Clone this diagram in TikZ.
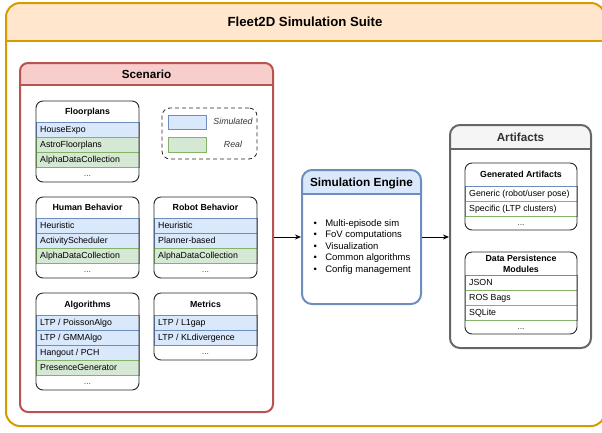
\documentclass[tikz,border=0pt]{standalone}
\usepackage{fontspec}
\setmainfont{Liberation Sans}
\usetikzlibrary{arrows.meta,fit}

\definecolor{orgS}{HTML}{D79B00}\definecolor{orgF}{HTML}{FFE6CC}
\definecolor{redS}{HTML}{B85450}\definecolor{redF}{HTML}{F8CECC}
\definecolor{bluS}{HTML}{6C8EBF}\definecolor{bluF}{HTML}{DAE8FC}
\definecolor{grnS}{HTML}{82B366}\definecolor{grnF}{HTML}{D5E8D4}
\definecolor{gryS}{HTML}{666666}\definecolor{gryF}{HTML}{F5F5F5}
\definecolor{gryT}{HTML}{333333}

\tikzset{
  rowtext/.style={anchor=base west, inner sep=0pt, font=\fontsize{8.8}{10.5}\selectfont},
  dotstext/.style={anchor=base, inner sep=0pt, text=black!70, font=\fontsize{8.8}{10.5}\selectfont},
  ltitletext/.style={anchor=base, inner sep=0pt, align=center, font=\bfseries\fontsize{8.8}{11}\selectfont},
  bigtitle/.style={anchor=base, inner sep=0pt, font=\bfseries\fontsize{11.7}{14}\selectfont},
  bluerow/.style={fill=bluF, draw=bluS, line width=0.8pt},
  grnrow/.style={fill=grnF, draw=grnS, line width=0.8pt},
  wbluerow/.style={fill=white, draw=bluS, line width=0.8pt},
  wgrnrow/.style={fill=white, draw=grnS, line width=0.8pt},
  listframe/.style={draw=black!85, line width=0.9pt, rounded corners=7pt, inner sep=0pt},
  flowarrow/.style={draw=black, line width=0.8pt, -{Stealth[length=6pt,width=5pt]}},
}

% row: name, x1, y1, x2, y2, style, text
\newcommand{\lrow}[7]{%
  \path[#6] (#2,#3) rectangle (#4,#5);
  \node[rowtext] (#1) at ({#2+4},{(#3+#5)/2+3.2}) {#7};}
% dots row: name, x1, y1, x2, y2
\newcommand{\drow}[5]{%
  \node[dotstext] (#1) at ({(#2+#4)/2},{(#3+#5)/2+2}) {...};}
% list frame: name, x1, y1, x2, y2
\newcommand{\lframe}[5]{%
  \node[listframe, fit={(#2,#3)(#4,#5)}] (#1) {};}
% swimlane container: name, x1, y1, x2, y2, header bottom, prefix (stroke/fill), radius
\newcommand{\lane}[8]{%
  \begin{scope}
    \clip (#2,#3) rectangle (#4,#6);
    \fill[#7F, rounded corners=#8] (#2,#3) rectangle (#4,#5);
  \end{scope}
  \draw[#7S, line width=2pt] (#2,#6) -- (#4,#6);
  \node[fit={(#2,#3)(#4,#5)}, inner sep=0pt, draw=#7S, line width=2pt, rounded corners=#8] (#1) {};}

\begin{document}
\begin{tikzpicture}[x=1pt, y=-1pt]
\useasboundingbox (0,0) rectangle (602,432);

% ---------- outer suite ----------
\lane{suite}{6}{3}{605}{426}{41}{org}{14pt}
\node[anchor=base, inner sep=0pt, font=\bfseries\fontsize{13.2}{15}\selectfont] (suitetitle) at (305,26.6) {Fleet2D Simulation Suite};

% ---------- scenario ----------
\lane{scenario}{20}{63}{273}{412}{85}{red}{8pt}
\node[bigtitle] (scenariotitle) at (146.5,78.2) {Scenario};

% Floorplans
\lrow{fp1}{36}{122}{139}{137}{bluerow}{HouseExpo}
\lrow{fp2}{36}{137}{139}{152}{grnrow}{AstroFloorplans}
\lrow{fp3}{36}{152}{139}{167}{grnrow}{AlphaDataCollection}
\drow{fp4}{36}{167}{139}{182}
\lframe{floorplans}{36}{101}{139}{182}
\node[ltitletext] (fptitle) at (87.5,114.7) {Floorplans};

% Legend
\node[fit={(162,108)(257,159)}, inner sep=0pt, draw=black!85, line width=0.8pt, dash pattern=on 4pt off 3pt, rounded corners=8pt] (legend) {};
\node[fit={(168,115)(206,129)}, inner sep=0pt, fill=bluF, draw=bluS, line width=0.8pt] (legsim) {};
\node[fit={(168,137)(206,152)}, inner sep=0pt, fill=grnF, draw=grnS, line width=0.8pt] (legreal) {};
\node[anchor=base, inner sep=0pt, font=\itshape\fontsize{8.8}{10.5}\selectfont, text=black!80] (legsimtxt) at (233,124.5) {Simulated};
\node[anchor=base, inner sep=0pt, font=\itshape\fontsize{8.8}{10.5}\selectfont, text=black!80] (legrealtxt) at (233,147.5) {Real};

% Human Behavior
\lrow{hb1}{36}{218}{139}{233}{bluerow}{Heuristic}
\lrow{hb2}{36}{233}{139}{248}{bluerow}{ActivityScheduler}
\lrow{hb3}{36}{248}{139}{263}{grnrow}{AlphaDataCollection}
\drow{hb4}{36}{263}{139}{278}
\lframe{human}{36}{197}{139}{278}
\node[ltitletext] (hbtitle) at (87.5,210.7) {Human Behavior};

% Robot Behavior
\lrow{rb1}{154}{218}{257}{233}{bluerow}{Heuristic}
\lrow{rb2}{154}{233}{257}{248}{bluerow}{Planner-based}
\lrow{rb3}{154}{248}{257}{263}{grnrow}{AlphaDataCollection}
\drow{rb4}{154}{263}{257}{278}
\lframe{robot}{154}{197}{257}{278}
\node[ltitletext] (rbtitle) at (205.5,210.7) {Robot Behavior};

% Algorithms
\lrow{al1}{36}{315}{139}{330}{bluerow}{LTP / PoissonAlgo}
\lrow{al2}{36}{330}{139}{345}{bluerow}{LTP / GMMAlgo}
\lrow{al3}{36}{345}{139}{360}{bluerow}{Hangout / PCH}
\lrow{al4}{36}{360}{139}{375}{grnrow}{PresenceGenerator}
\drow{al5}{36}{375}{139}{390}
\lframe{algorithms}{36}{293}{139}{390}
\node[ltitletext] (altitle) at (87.5,307.2) {Algorithms};

% Metrics
\lrow{me1}{154}{315}{257}{330}{bluerow}{LTP / L1gap}
\lrow{me2}{154}{330}{257}{345}{bluerow}{LTP / KLdivergence}
\drow{me3}{154}{345}{257}{360}
\lframe{metrics}{154}{293}{257}{360}
\node[ltitletext] (metitle) at (205.5,307.2) {Metrics};

% ---------- simulation engine ----------
\lane{engine}{302}{170}{421}{304}{194}{blu}{10pt}
\node[anchor=base, inner sep=0pt, font=\bfseries\fontsize{11.8}{14}\selectfont] (enginetitle) at (361.5,186.2) {Simulation Engine};
\node[anchor=west, inner sep=0pt, font=\fontsize{9.5}{11.5}\selectfont] (bullets) at (313.5,247)
  {\begin{tabular}{@{}l@{\hspace{8.3pt}}l@{}}
   • & Multi-episode sim\\
   • & FoV computations\\
   • & Visualization\\
   • & Common algorithms\\
   • & Config management
   \end{tabular}};

% ---------- artifacts ----------
\lane{artifacts}{450}{125}{591}{348}{149}{gry}{10pt}
\node[bigtitle, text=gryT] (artifactstitle) at (520.5,141.2) {Artifacts};

% Generated Artifacts
\lrow{ga1}{465}{186}{577}{201}{wbluerow}{Generic (robot/user pose)}
\lrow{ga2}{465}{201}{577}{216}{wgrnrow}{Specific (LTP clusters)}
\drow{ga3}{465}{216}{577}{230}
\lframe{generated}{465}{163}{577}{230}
\node[ltitletext] (gatitle) at (521,177.7) {Generated Artifacts};

% Data Persistence Modules
\lrow{dp1}{465}{275}{577}{290}{wbluerow}{JSON}
\lrow{dp2}{465}{290}{577}{305}{wgrnrow}{ROS Bags}
\lrow{dp3}{465}{305}{577}{320}{wgrnrow}{SQLite}
\drow{dp4}{465}{320}{577}{334}
\lframe{persistence}{465}{252}{577}{334}
\node[ltitletext] (dptitle) at (521,272.3) {Data Persistence\\Modules};

% ---------- connectors ----------
\draw[flowarrow] (scenario.east |- engine.west) -- (engine.west);
\draw[flowarrow] (engine.east) -- (engine.east -| artifacts.west);
\end{tikzpicture}
\end{document}
